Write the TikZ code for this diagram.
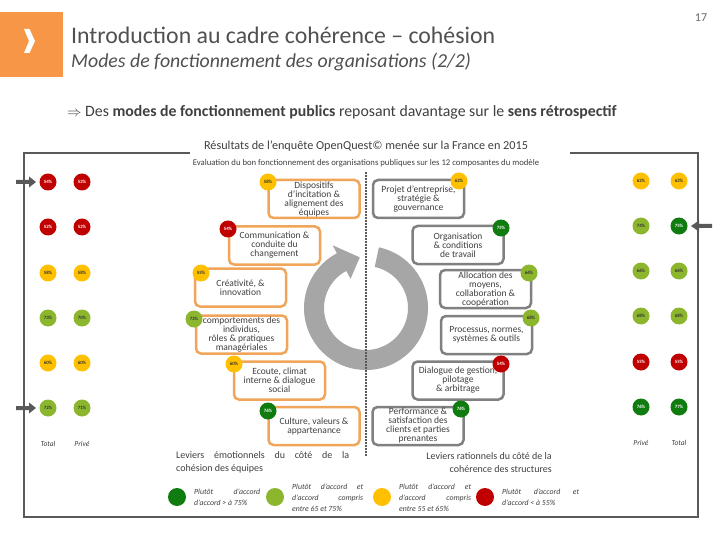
\documentclass[tikz,border=0pt]{standalone}
\usepackage{fontspec}
\setmainfont{Carlito}
\definecolor{cOrH}{RGB}{247,150,70}
\definecolor{cTxt}{RGB}{64,64,64}
\definecolor{cTit}{RGB}{80,80,80}
\definecolor{cFr}{RGB}{89,89,89}
\definecolor{cOr}{RGB}{240,165,90}
\definecolor{cGr}{RGB}{128,128,128}
\definecolor{cRed}{RGB}{192,0,0}
\definecolor{cYel}{RGB}{255,192,0}
\definecolor{cLG}{RGB}{140,182,45}
\definecolor{cDG}{RGB}{16,124,16}
\definecolor{cRing}{RGB}{166,166,166}
\begin{document}
\begin{tikzpicture}[x=1pt,y=-1pt,
  txt/.style={inner sep=0pt, text=cTxt},
  pct/.style={circle, inner sep=0pt, minimum size=17pt, font=\fontsize{4.8}{5}\selectfont\bfseries},
  cred/.style={pct, fill=cRed, text=white},
  cyel/.style={pct, fill=cYel, text=black!80},
  clg/.style={pct, fill=cLG, text=black!80},
  cdg/.style={pct, fill=cDG, text=white},
  obox/.style={draw=cOr, line width=2.5pt, rounded corners=5pt, fill=white, minimum width=91pt, minimum height=38pt, inner sep=1pt, align=center, text=cTxt, font=\fontsize{9.5}{9}\selectfont},
  gbox/.style={obox, draw=cGr},
  frame/.style={draw=cFr, line width=2.5pt},
  colhead/.style={txt, font=\fontsize{7.5}{8}\selectfont\itshape, text=cTxt},
  legtxt/.style={txt, anchor=west, align=left, font=\fontsize{7.8}{11}\selectfont\itshape}
]
\useasboundingbox (0,0) rectangle (720,540);
\fill[white] (0,0) rectangle (720,540);

% header
\fill[cOrH] (0,12) rectangle (63,77);
\fill[white] (24,29) -- (29.5,29) -- (35,41) -- (29.5,53) -- (24,53) -- (29,41) -- cycle;
\node[txt, text=cTit, anchor=west, font=\fontsize{23.8}{28}\selectfont] (title) at (71,35) {Introduction au cadre cohérence – cohésion};
\node[txt, text=cTit, anchor=west, font=\fontsize{19.8}{24}\selectfont\itshape] (subt) at (71,62) {Modes de fonctionnement des organisations (2/2)};
\node[txt, font=\fontsize{12}{14}\selectfont, text=black!60] (pnum) at (701,18) {17};
\node[txt, anchor=west, font=\fontsize{15.8}{18}\selectfont] (lead) at (67,112) {$\Rightarrow$ Des \textbf{modes de fonctionnement publics} reposant davantage sur le \textbf{sens rétrospectif}};

% frame
\draw[frame] (190,153) -- (24,153) -- (24,517) -- (698,517) -- (698,153) -- (570,153);
\node[txt, font=\fontsize{12.2}{14}\selectfont] (ftitle) at (366,146) {Résultats de l’enquête OpenQuest© menée sur la France en 2015};
\node[txt, font=\fontsize{8.7}{9}\selectfont] (fsub) at (366,163) {Evaluation du bon fonctionnement des organisations publiques sur les 12 composantes du modèle};

% side arrows
\fill[cFr] (16,180) -- (29,180) -- (29,176.5) -- (36,182) -- (29,187.5) -- (29,184) -- (16,184) -- cycle;
\fill[cFr] (16,406) -- (29,406) -- (29,402.5) -- (36,408) -- (29,413.5) -- (29,410) -- (16,410) -- cycle;
\fill[cFr] (712,224) -- (699,224) -- (699,220.5) -- (691,226) -- (699,231.5) -- (699,228) -- (712,228) -- cycle;

% ring arrow
\begin{scope}[shift={(366,308)}, yscale=-1]
\fill[cRing] (78:62) arc[start angle=78, end angle=-242, radius=62] -- (118:71) -- (97:51) -- (118:33) -- (118:42) arc[start angle=-242, end angle=78, radius=42] -- cycle;
\end{scope}
\draw[cFr, line width=2.5pt, dash pattern=on 1.8pt off 1.2pt] (366,172) -- (366,456);

% left side circles
\node[cred] (l1t) at (48,182) {54\%};  \node[cred] (l1p) at (82,182) {52\%};
\node[cred] (l2t) at (48,227) {52\%};  \node[cred] (l2p) at (82,227) {52\%};
\node[cyel] (l3t) at (48,273) {58\%};  \node[cyel] (l3p) at (82,273) {58\%};
\node[clg]  (l4t) at (48,318) {73\%};  \node[clg]  (l4p) at (82,318) {70\%};
\node[cyel] (l5t) at (48,363) {60\%};  \node[cyel] (l5p) at (82,363) {60\%};
\node[clg]  (l6t) at (48,408) {72\%};  \node[clg]  (l6p) at (82,408) {71\%};
\node[colhead] (ltot) at (48,444) {Total};
\node[colhead] (lpri) at (82,444) {Privé};

% right side circles
\node[cyel] (r1p) at (641,181) {62\%};  \node[cyel] (r1t) at (679,181) {62\%};
\node[clg]  (r2p) at (641,226) {74\%};  \node[cdg]  (r2t) at (679,226) {75\%};
\node[clg]  (r3p) at (641,271) {66\%};  \node[clg]  (r3t) at (679,271) {66\%};
\node[clg]  (r4p) at (641,316) {68\%};  \node[clg]  (r4t) at (679,316) {68\%};
\node[cred] (r5p) at (641,362) {55\%};  \node[cred] (r5t) at (679,362) {55\%};
\node[cdg]  (r6p) at (641,407) {76\%};  \node[cdg]  (r6t) at (679,407) {77\%};
\node[colhead] (rpri) at (641,443) {Privé};
\node[colhead] (rtot) at (679,443) {Total};

% left boxes
\node[obox] (disp) at (314,199) {Dispositifs\\d’incitation \&\\alignement des\\équipes};
\node[obox] (comm) at (274.5,245.5) {Communication \&\\conduite du\\changement};
\node[obox] (crea) at (240.5,287.5) {Créativité, \&\\innovation};
\node[obox] (comp) at (241.5,334.5) {comportements des\\individus,\\rôles \& pratiques\\managériales};
\node[obox] (ecou) at (279.5,380.5) {Ecoute, climat\\interne \& dialogue\\social};
\node[obox] (cult) at (314,426) {Culture, valeurs \&\\appartenance};

% right boxes
\node[gbox] (proj) at (418.5,199) {Projet d’entreprise,\\stratégie \&\\gouvernance};
\node[gbox] (orga) at (458,245) {Organisation\\\& conditions\\de travail};
\node[gbox] (allo) at (485.5,289) {Allocation des\\moyens,\\collaboration \&\\coopération};
\node[gbox] (proc) at (486.5,335) {Processus, normes,\\systèmes \& outils};
\node[gbox] (dial) at (458,380.5) {Dialogue de gestion,\\pilotage\\\& arbitrage};
\node[gbox] (perf) at (418,426) {Performance \&\\satisfaction des\\clients et parties\\prenantes};

% box circles
\node[cyel] (cdisp) at (268,182) {58\%};
\node[cred] (ccomm) at (228,229) {54\%};
\node[cyel] (ccrea) at (201,273) {55\%};
\node[clg]  (ccomp) at (194,319) {72\%};
\node[cyel] (cecou) at (234,364) {60\%};
\node[cdg]  (ccult) at (268,411) {76\%};
\node[cyel] (cproj) at (459,181) {62\%};
\node[cdg]  (corga) at (501,228) {75\%};
\node[clg]  (callo) at (529,273) {66\%};
\node[clg]  (cproc) at (531,318) {68\%};
\node[cred] (cdial) at (501,364) {54\%};
\node[cdg]  (cperf) at (461,409) {76\%};

% levers
\node[txt, anchor=west, align=left, font=\fontsize{10}{13}\selectfont] (levl) at (176,462.5) {\makebox[173pt][s]{Leviers émotionnels du côté de la}\\cohésion des équipes};
\node[txt, anchor=east, align=right, font=\fontsize{10}{13}\selectfont] (levr) at (552,462.5) {Leviers rationnels du côté de la\\cohérence des structures};

% legend
\node[pct, minimum size=18pt, fill=cDG] (kdg) at (177,497) {};
\node[legtxt] (tdg) at (194,497.5) {\makebox[66pt][s]{Plutôt d’accord}\\d’accord > à 75\%};
\node[pct, minimum size=18pt, fill=cLG] (klg) at (275,497) {};
\node[legtxt] (tlg) at (292,498) {\makebox[71pt][s]{Plutôt d’accord et}\\\makebox[71pt][s]{d’accord compris}\\entre 65 et 75\%};
\node[pct, minimum size=18pt, fill=cYel] (kye) at (382,497) {};
\node[legtxt] (tye) at (399,498) {\makebox[72pt][s]{Plutôt d’accord et}\\\makebox[72pt][s]{d’accord compris}\\entre 55 et 65\%};
\node[pct, minimum size=18pt, fill=cRed] (kre) at (485,497) {};
\node[legtxt] (tre) at (502,497.5) {\makebox[77pt][s]{Plutôt d’accord et}\\d’accord < à 55\%};
\end{tikzpicture}
\end{document}
